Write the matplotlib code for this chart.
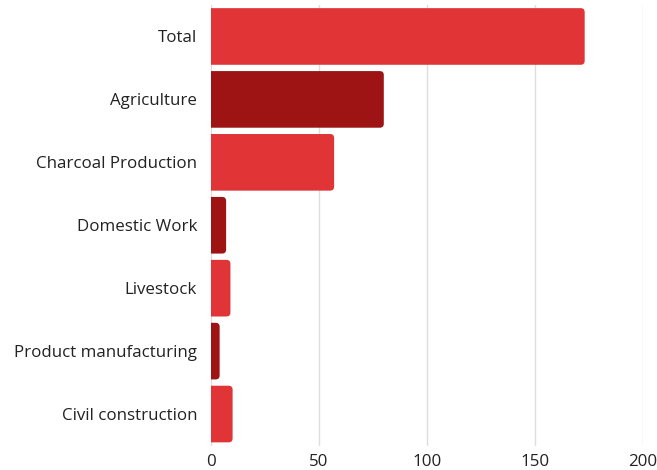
import matplotlib
matplotlib.use("Agg")
import matplotlib.pyplot as plt
from matplotlib.patches import FancyBboxPatch

categories = ["Total", "Agriculture", "Charcoal Production", "Domestic Work",
              "Livestock", "Product manufacturing", "Civil construction"]
values = [173, 80, 57, 7, 9, 4, 10]
colors = ["#E03436", "#9E1414", "#E03436", "#9E1414", "#E03436", "#9E1414", "#E03436"]
xticks = [0, 50, 100, 150, 200]

plt.rcParams['font.family'] = ['Open Sans', 'DejaVu Sans']

fig = plt.figure(figsize=(6.57, 4.70), dpi=100)
ax = fig.add_axes([211/657, 1 - 445.5/470, (643-211)/657, (445.5-5)/470])

ypos = list(range(len(categories)))
bars = ax.barh(ypos, values, height=0.9, color=colors, zorder=3)
ax.set_ylim(len(categories) - 0.5, -0.5)
ax.set_xlim(0, 200)

# replace bars with rounded versions (right corners rounded; left edge clipped at 0)
xpx = (643 - 211) / 200.0
ypx = (445.5 - 5) / len(categories)
r = 4.0 / xpx
aspect = (4.0 / ypx) / r
for b in bars:
    x0, y0, w, h = b.get_x(), b.get_y(), b.get_width(), b.get_height()
    b.set_visible(False)
    p = FancyBboxPatch((x0 - 3, y0), w + 3, h,
                       boxstyle=f"round,pad=0,rounding_size={r}",
                       mutation_aspect=aspect,
                       facecolor=b.get_facecolor(), edgecolor="none", zorder=3)
    ax.add_patch(p)

ax.set_yticks(ypos)
ax.set_yticklabels(categories, fontsize=12.2, color="#222222")
ax.set_xticks(xticks)
ax.set_xticklabels([str(t) for t in xticks], fontsize=12.2, color="#222222")
ax.tick_params(axis='y', length=0, pad=10)
ax.tick_params(axis='x', length=0, pad=6)
ax.grid(axis='x', color="#dddddd", linewidth=1, zorder=0)
for s in ax.spines.values():
    s.set_visible(False)

fig.savefig("out.png", dpi=100)
